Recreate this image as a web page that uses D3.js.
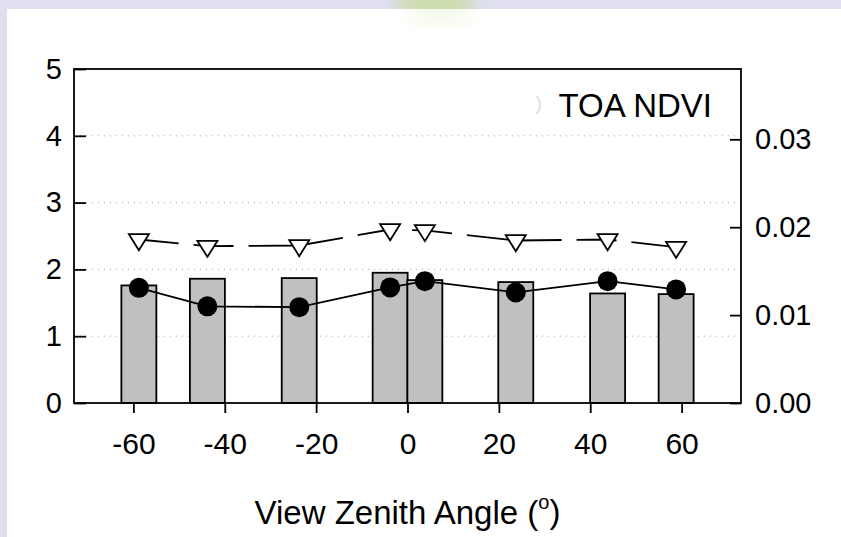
<!DOCTYPE html>
<html>
<head>
<meta charset="utf-8">
<script src="https://cdn.jsdelivr.net/npm/d3@7"></script>
<style>
  body { margin: 0; background: #dfdfef; }
  svg { display: block; }
</style>
</head>
<body>
<div id="chart"></div>
<script>
// view zenith angles (deg)
const angles = [-58.8, -43.8, -23.7, -3.8, 3.8, 23.7, 43.8, 58.8];
// bars, left axis
const barValues = [1.76, 1.86, 1.87, 1.95, 1.84, 1.81, 1.64, 1.63];
// solid line with filled circles, right axis
const circleValues = [0.0131, 0.0110, 0.0109, 0.01315, 0.01386, 0.01258, 0.01386, 0.01292];
// dashed line with open triangles, right axis
const triangleValues = [0.0186, 0.01784, 0.01792, 0.01974, 0.01963, 0.01849, 0.0186, 0.01773];

const xTicks = [-60, -40, -20, 0, 20, 40, 60];
const leftTicks = [0, 1, 2, 3, 4, 5];
const rightTicks = [0, 0.01, 0.02, 0.03];
const gridTicks = [1, 2, 3, 4];
const legendLabel = "TOA NDVI";

class ZenithChart {
    constructor(container) {
        this.container = container;
        this.totalW = 841;
        this.totalH = 537;
        this.margin = { top: 69, right: 100, bottom: 134, left: 74 };
        this.width = this.totalW - this.margin.left - this.margin.right;
        this.height = this.totalH - this.margin.top - this.margin.bottom;
        this.barWidthDeg = 7.66;
        this.font = "'Liberation Sans', Arial, sans-serif";
    }

    draw() {
        const root = d3.select(this.container).append("svg")
            .attr("width", this.totalW)
            .attr("height", this.totalH);

        // page background: lavender border, white panel
        root.append("rect").attr("width", this.totalW).attr("height", this.totalH).attr("fill", "#dfdfef");
        const glow = root.append("defs").append("filter").attr("id", "blur");
        glow.append("feGaussianBlur").attr("stdDeviation", 8);
        root.append("ellipse")
            .attr("cx", 435).attr("cy", 4).attr("rx", 40).attr("ry", 14)
            .attr("fill", "#b8d86a").attr("opacity", 0.5).attr("filter", "url(#blur)");
        root.append("rect").attr("x", 7).attr("y", 9)
            .attr("width", this.totalW - 7).attr("height", this.totalH - 9)
            .attr("fill", "#fff");
        root.append("ellipse")
            .attr("cx", 440).attr("cy", 14).attr("rx", 32).attr("ry", 12)
            .attr("fill", "#cfe59a").attr("opacity", 0.2).attr("filter", "url(#blur)");

        const svg = root.append("g")
            .attr("transform", `translate(${this.margin.left},${this.margin.top})`)
            .attr("font-family", this.font);

        const x = d3.scaleLinear().domain([-73, 73]).range([0, this.width]);
        const yL = d3.scaleLinear().domain([0, 5]).range([this.height, 0]);
        const yR = d3.scaleLinear().domain([0, 0.038]).range([this.height, 0]);

        // dotted grid
        svg.append("g").selectAll("line")
            .data(gridTicks)
            .enter().append("line")
            .attr("x1", 0).attr("x2", this.width)
            .attr("y1", d => yL(d)).attr("y2", d => yL(d))
            .attr("stroke", "#a8a8a8")
            .attr("stroke-width", 1)
            .attr("stroke-dasharray", "1,5");

        // bars
        svg.append("g").selectAll("rect")
            .data(angles.map((a, i) => ({ a: a, v: barValues[i] })))
            .enter().append("rect")
            .attr("x", d => x(d.a - this.barWidthDeg / 2))
            .attr("width", d => x(d.a + this.barWidthDeg / 2) - x(d.a - this.barWidthDeg / 2))
            .attr("y", d => yL(d.v))
            .attr("height", d => this.height - yL(d.v))
            .attr("fill", "#c0c0c0")
            .attr("stroke", "#000")
            .attr("stroke-width", 1.8);

        const triData = angles.map((a, i) => ({ a: a, v: triangleValues[i] }));
        const cirData = angles.map((a, i) => ({ a: a, v: circleValues[i] }));
        const line = d3.line().x(d => x(d.a)).y(d => yR(d.v));

        svg.append("path")
            .datum(triData)
            .attr("d", line)
            .attr("fill", "none")
            .attr("stroke", "#000")
            .attr("stroke-width", 1.8)
            .attr("stroke-dasharray", "40,15,40,15,95,15");

        svg.append("path")
            .datum(cirData)
            .attr("d", line)
            .attr("fill", "none")
            .attr("stroke", "#000")
            .attr("stroke-width", 1.8);

        // down triangles, centroid on the value
        svg.append("g").selectAll("path")
            .data(triData)
            .enter().append("path")
            .attr("transform", d => `translate(${x(d.a)},${yR(d.v)})`)
            .attr("d", "M-10,-5.3L10,-5.3L0,10.7Z")
            .attr("fill", "#fff")
            .attr("stroke", "#000")
            .attr("stroke-width", 1.8);

        svg.append("g").selectAll("circle")
            .data(cirData)
            .enter().append("circle")
            .attr("cx", d => x(d.a))
            .attr("cy", d => yR(d.v))
            .attr("r", 10)
            .attr("fill", "#000");

        // axes
        const xAxis = svg.append("g")
            .attr("transform", `translate(0,${this.height})`)
            .call(d3.axisBottom(x).tickValues(xTicks).tickSize(10).tickFormat(d => String(d)));
        xAxis.selectAll("text").attr("y", 40).attr("dy", "0.35em");

        const leftAxis = svg.append("g")
            .call(d3.axisLeft(yL).tickValues(leftTicks).tickSize(-12).tickPadding(12).tickFormat(d => String(d)));

        const rightAxis = svg.append("g")
            .attr("transform", `translate(${this.width},0)`)
            .call(d3.axisRight(yR).tickValues(rightTicks).tickSize(-11).tickPadding(14).tickFormat(d3.format(".2f")));

        [xAxis, leftAxis, rightAxis].forEach(g => {
            g.select(".domain").remove();
            g.selectAll("line").attr("stroke", "#000").attr("stroke-width", 1.8);
            g.selectAll("text")
                .attr("font-family", this.font)
                .attr("font-size", 29)
                .attr("fill", "#000");
        });
        xAxis.selectAll("text").attr("font-size", 30);

        // frame
        svg.append("rect")
            .attr("width", this.width)
            .attr("height", this.height)
            .attr("fill", "none")
            .attr("stroke", "#000")
            .attr("stroke-width", 1.8);

        // legend (only the last entry survives in the picture)
        const legend = svg.append("g")
            .attr("transform", `translate(${this.width - 29},${36})`);
        legend.append("path")
            .attr("d", "M-176,-9 A12,12 0 0 1 -176,9")
            .attr("fill", "none")
            .attr("stroke", "#d8d8d8")
            .attr("stroke-width", 1.5);
        legend.append("text")
            .attr("text-anchor", "end")
            .attr("dy", "0.35em")
            .attr("font-size", 33)
            .text(legendLabel);

        // x title
        const title = svg.append("text")
            .attr("x", this.width / 2)
            .attr("y", this.height + 109)
            .attr("dy", "0.35em")
            .attr("text-anchor", "middle")
            .attr("font-size", 33);
        title.append("tspan").text("View Zenith Angle (");
        title.append("tspan").attr("font-size", 20).attr("dy", "-0.75em").text("o");
        title.append("tspan").attr("dy", "0.45em").text(")");
    }
}

const myChart = new ZenithChart("#chart");
myChart.draw();
</script>
</body>
</html>
